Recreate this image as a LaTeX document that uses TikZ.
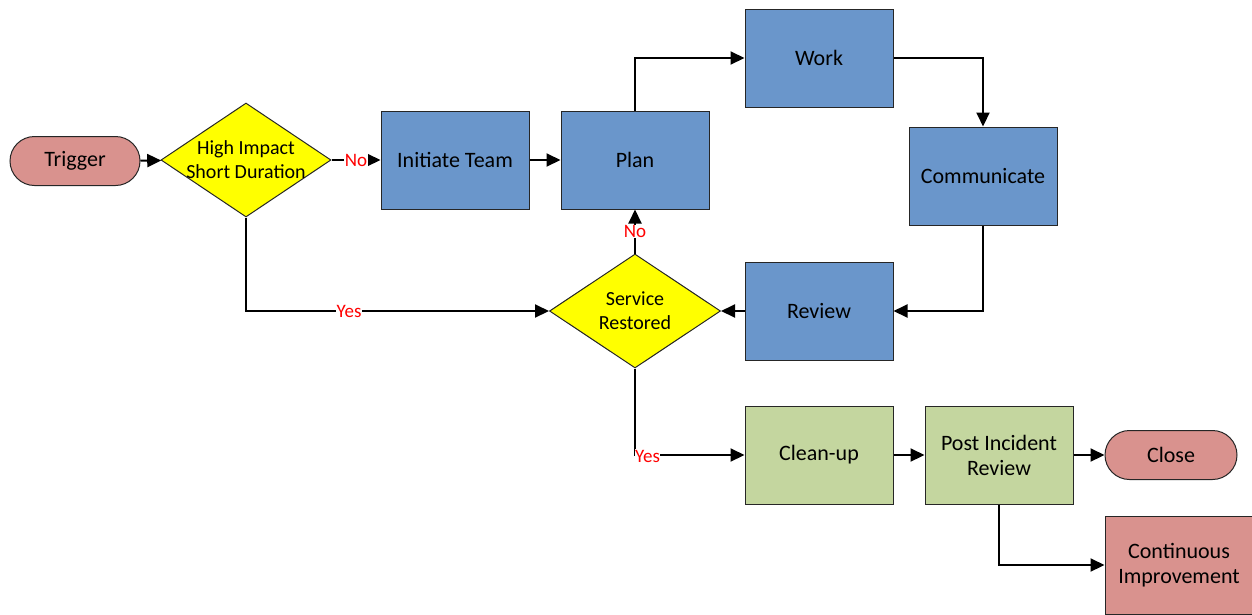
\documentclass[tikz,border=0pt]{standalone}
\usepackage{fontspec}
\setmainfont{Carlito}
\usetikzlibrary{arrows.meta,shapes.geometric,shapes.misc}
\definecolor{procblue}{HTML}{6A96CB}
\definecolor{procgreen}{HTML}{C4D69F}
\definecolor{termred}{HTML}{D9928E}
\definecolor{decyellow}{HTML}{FFFF00}
\definecolor{labelred}{HTML}{FF0000}
\tikzset{
  basefont/.style={font=\fontsize{22}{25}\selectfont, text=black, align=center},
  procbox/.style={basefont, draw=black!85, line width=1pt, minimum width=148pt, minimum height=98pt, inner sep=0pt},
  bluebox/.style={procbox, fill=procblue},
  greenbox/.style={procbox, fill=procgreen},
  redbox/.style={procbox, fill=termred},
  terminal/.style={basefont, rounded rectangle, draw=black!85, line width=1pt, fill=termred, minimum width=130pt, minimum height=49pt, inner sep=0pt},
  decision/.style={diamond, draw=black!85, line width=1pt, fill=decyellow, inner sep=0pt, aspect=1.5},
  decisiontext/.style={font=\fontsize{20}{24}\selectfont, text=black, align=center, inner sep=0pt},
  flow/.style={line width=2pt, -{Triangle[length=14pt,width=13pt]}},
  branch/.style={font=\fontsize{19}{21}\selectfont, text=labelred, fill=white, inner sep=0.5pt},
}
\begin{document}
\begin{tikzpicture}[x=1pt,y=-1pt]
\useasboundingbox (0,0) rectangle (1252,614);
% terminals and decisions (diamonds keep a fixed size, text set on top)
\node[terminal] (trigger) at (75,161) {Trigger};
\node[decision, minimum width=170pt, minimum height=114pt] (impact) at (246,160) {};
\node[decisiontext] (impacttext) at (impact.center) {High Impact\\Short Duration};
\node[decision, minimum width=171pt, minimum height=114pt] (restored) at (635,311) {};
\node[decisiontext] (restoredtext) at (restored.center) {Service\\Restored};
% response loop
\node[bluebox] (initiate) at (455,160) {Initiate Team};
\node[bluebox] (plan) at (635,160) {Plan};
\node[bluebox] (work) at (819,58) {Work};
\node[bluebox] (comm) at (983,176) {Communicate};
\node[bluebox] (review) at (819,311) {Review};
% wrap-up
\node[greenbox] (cleanup) at (819,455) {Clean-up};
\node[greenbox] (pir) at (999,455) {Post Incident\\Review};
\node[terminal, minimum width=132pt] (close) at (1171,455) {Close};
\node[redbox] (ci) at (1179,565) {Continuous\\Improvement};
% connectors
\draw[flow] (trigger) -- (impact);
\draw[flow] (impact.east) -- (initiate.west) node[branch, pos=0.5] {No};
\draw[flow] (initiate) -- (plan);
\draw[flow] (plan.north) |- (work.west);
\draw[flow] (work.east) -| (comm.north);
\draw[flow] (comm.south) |- (review.east);
\draw[flow] (review.west) -- (restored.east);
\draw[flow] (restored.north) -- (plan.south) node[branch, midway] {No};
\draw[flow] (impact.south) |- (restored.west) node[branch, pos=0.67] {Yes};
\coordinate (bend) at (restored.south |- cleanup.west);
\draw[flow] (restored.south) |- (cleanup.west);
\node[branch, anchor=west] at ([xshift=-0.5pt,yshift=-1pt]bend) {Yes};
\draw[flow] (cleanup) -- (pir);
\draw[flow] (pir) -- (close);
\draw[flow] (pir.south) |- (ci.west);
\end{tikzpicture}
\end{document}
